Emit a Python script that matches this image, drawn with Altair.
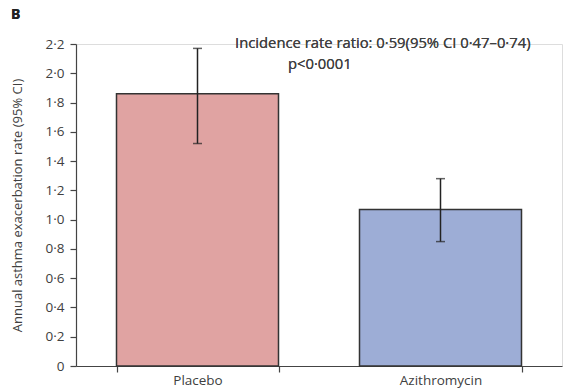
import altair as alt
import pandas as pd

# Annual exacerbation rates with 95% confidence intervals
groups = ["Placebo", "Azithromycin"]
rates = [1.86, 1.07]
ci_low = [1.52, 0.85]
ci_high = [2.17, 1.28]
bar_colors = ["#E0A3A2", "#9DADD6"]

y_ticks = [0, 0.2, 0.4, 0.6, 0.8, 1.0, 1.2, 1.4, 1.6, 1.8, 2.0, 2.2]

df = pd.DataFrame({
    "group": groups,
    "rate": rates,
    "low": ci_low,
    "high": ci_high,
})

FONT = "Open Sans"
INK = "#404040"
LINE = "#444444"

x_axis = alt.Axis(
    title=None,
    labelAngle=0,
    tickBand="extent",
    tickSize=6,
    labelPadding=1,
    labelFontSize=13.5,
    labelFont=FONT,
    labelColor=INK,
    domainColor=LINE,
    tickColor=LINE,
    domainWidth=1.2,
    tickWidth=1.2,
)
x_scale = alt.Scale(paddingInner=1 / 3, paddingOuter=1 / 6)

y_axis = alt.Axis(
    title="Annual asthma exacerbation rate (95% CI)",
    titleFont=FONT,
    titleFontSize=13,
    titleFontWeight="normal",
    titleColor=INK,
    titlePadding=21,
    values=y_ticks,
    labelOverlap=False,
    labelExpr="datum.value == 0 ? '0' : replace(format(datum.value, '.1f'), '.', '·')",
    labelFont=FONT,
    labelFontSize=13.5,
    labelColor=INK,
    tickSize=6,
    labelPadding=6,
    grid=False,
    domainColor=LINE,
    tickColor=LINE,
    domainWidth=1.2,
    tickWidth=1.2,
)
y_scale = alt.Scale(domain=[0, 2.2], nice=False)


def xe():
    return alt.X("group:N", sort=groups, scale=x_scale, axis=x_axis)


def ye(field):
    return alt.Y(field, scale=y_scale, axis=y_axis)


bars = alt.Chart(df).mark_bar(stroke="#333333", strokeWidth=1.5).encode(
    x=xe(),
    y=ye("rate:Q"),
    color=alt.Color("group:N", scale=alt.Scale(domain=groups, range=bar_colors), legend=None),
)

whisker = alt.Chart(df).mark_rule(color="#222222", strokeWidth=1.5).encode(
    x=xe(),
    y=ye("low:Q"),
    y2="high:Q",
)

cap_low = alt.Chart(df).mark_tick(color="#222222", size=9, thickness=1.5, orient="horizontal").encode(
    x=xe(),
    y=ye("low:Q"),
)

cap_high = alt.Chart(df).mark_tick(color="#222222", size=9, thickness=1.5, orient="horizontal").encode(
    x=xe(),
    y=ye("high:Q"),
)

note1 = alt.Chart(df).mark_text(
    text="Incidence rate ratio: 0·59(95% CI 0·47–0·74)",
    font=FONT, fontSize=14.8, color=INK, align="left", baseline="middle",
).encode(x=alt.value(159), y=alt.value(0))

note2 = alt.Chart(df).mark_text(
    text="p<0·0001",
    font=FONT, fontSize=14.8, color=INK, align="left", baseline="middle",
).encode(x=alt.value(212), y=alt.value(21))

panel = alt.Chart(df).mark_text(
    text="B", font=FONT, fontSize=14, fontWeight="bold", color="#222222",
    align="left", baseline="middle",
).encode(x=alt.value(-65), y=alt.value(-29))

chart = (
    alt.layer(bars, whisker, cap_low, cap_high, note1, note2, panel)
    .properties(
        width=486,
        height=322,
        autosize=alt.AutoSizeParams(type="none"),
        padding={"left": 76, "top": 44, "right": 1, "bottom": 24},
    )
    .configure_view(stroke=None)
    .configure(background="white")
)

chart.save("out.html", embed_options={"renderer": "svg", "actions": False})
